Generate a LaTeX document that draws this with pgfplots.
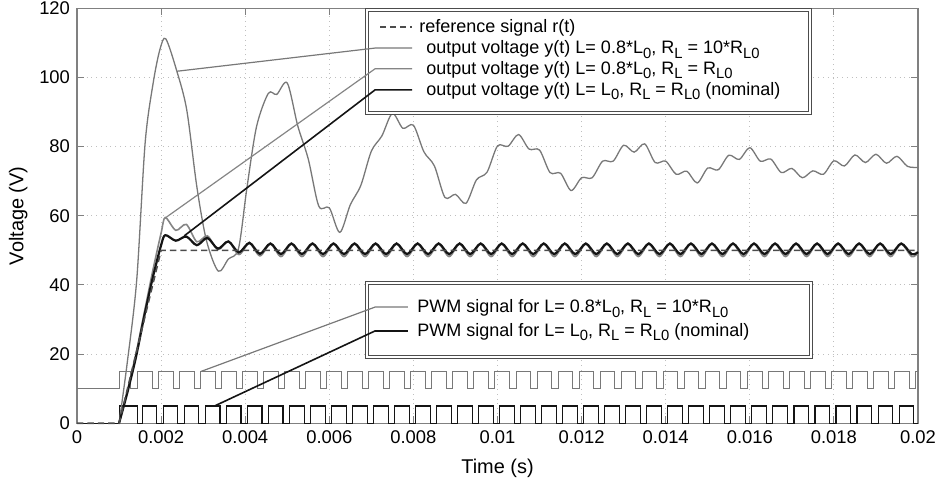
\documentclass[border=0pt]{standalone}
\usepackage{fontspec}
\setmainfont{Liberation Sans}
\usepackage{pgfplots}
\pgfplotsset{compat=1.18}

\definecolor{gOne}{gray}{0.47}
\definecolor{gTwo}{gray}{0.52}
\definecolor{blk}{gray}{0.08}
\definecolor{refc}{gray}{0.3}
\definecolor{axc}{gray}{0.5}

\newcommand{\sub}[1]{\raisebox{-0.5ex}{\fontsize{7.4bp}{8bp}\selectfont #1}}

\begin{document}
\begin{tikzpicture}
\begin{axis}[
    scale only axis,
    width=420.5bp, height=207.5bp,
    xmin=0, xmax=0.02, ymin=0, ymax=120,
    xtick={0,0.002,...,0.02}, ytick={0,20,...,120},
    scaled x ticks=false,
    xticklabel style={/pgf/number format/fixed, /pgf/number format/precision=3},
    /pgf/number format/assume math mode=true,
    ticklabel style={font=\fontsize{9.2bp}{10bp}\selectfont},
    label style={font=\fontsize{10.3bp}{12bp}\selectfont},
    xlabel={Time (s)}, ylabel={Voltage (V)},
    every axis x label/.style={at={(axis description cs:0.5,-0.108)}, anchor=center},
    every axis y label/.style={at={(axis description cs:-0.070,0.5)}, anchor=center, rotate=90},
    axis line style={axc, line width=0.6bp},
    tick style={axc, line width=0.5bp},
    major tick length=3.5bp,
    tick align=inside,
    grid=major,
    grid style={dotted, gray!50, line width=0.5bp},
    clip=false,
]
% PWM signal, L=0.8*L0, RL=10*RL0 (offset by 10)
\addplot[const plot, gOne, line width=0.5bp] coordinates {
(0,10) (0.001,15) (0.00128,10)
(0.00144,15) (0.00179,10) (0.00194,15) (0.00229,10) (0.00244,15) (0.00279,10)
(0.00294,15) (0.00329,10) (0.00344,15) (0.00379,10) (0.00394,15) (0.00429,10)
(0.00444,15) (0.00479,10) (0.00494,15) (0.00529,10) (0.00544,15) (0.00579,10)
(0.00594,15) (0.00629,10) (0.00644,15) (0.00679,10) (0.00694,15) (0.00729,10)
(0.00744,15) (0.00779,10) (0.00794,15) (0.00829,10) (0.00844,15) (0.00879,10)
(0.00894,15) (0.00929,10) (0.00944,15) (0.00979,10) (0.00994,15) (0.01029,10)
(0.01044,15) (0.01079,10) (0.01094,15) (0.01129,10) (0.01144,15) (0.01179,10)
(0.01194,15) (0.01229,10) (0.01244,15) (0.01279,10) (0.01294,15) (0.01329,10)
(0.01344,15) (0.01379,10) (0.01394,15) (0.01429,10) (0.01444,15) (0.01479,10)
(0.01494,15) (0.01529,10) (0.01544,15) (0.01579,10) (0.01594,15) (0.01629,10)
(0.01644,15) (0.01679,10) (0.01694,15) (0.01729,10) (0.01744,15) (0.01779,10)
(0.01794,15) (0.01829,10) (0.01844,15) (0.01879,10) (0.01894,15) (0.01929,10)
(0.01944,15) (0.01979,10) (0.01994,15) (0.02,15)};
% PWM signal, nominal
\addplot[const plot, blk, line width=0.55bp] coordinates {
(0,0) (0.001,5) (0.00144,0)
(0.00155,5) (0.0019,0) (0.00205,5) (0.0024,0) (0.00255,5) (0.0029,0)
(0.00305,5) (0.0034,0) (0.00355,5) (0.0039,0) (0.00405,5) (0.0044,0)
(0.00455,5) (0.0049,0) (0.00505,5) (0.0054,0) (0.00555,5) (0.0059,0)
(0.00605,5) (0.0064,0) (0.00655,5) (0.0069,0) (0.00705,5) (0.0074,0)
(0.00755,5) (0.0079,0) (0.00805,5) (0.0084,0) (0.00855,5) (0.0089,0)
(0.00905,5) (0.0094,0) (0.00955,5) (0.0099,0) (0.01005,5) (0.0104,0)
(0.01055,5) (0.0109,0) (0.01105,5) (0.0114,0) (0.01155,5) (0.0119,0)
(0.01205,5) (0.0124,0) (0.01255,5) (0.0129,0) (0.01305,5) (0.0134,0)
(0.01355,5) (0.0139,0) (0.01405,5) (0.0144,0) (0.01455,5) (0.0149,0)
(0.01505,5) (0.0154,0) (0.01555,5) (0.0159,0) (0.01605,5) (0.0164,0)
(0.01655,5) (0.0169,0) (0.01705,5) (0.0174,0) (0.01755,5) (0.0179,0)
(0.01805,5) (0.0184,0) (0.01855,5) (0.0189,0) (0.01905,5) (0.0194,0)
(0.01955,5) (0.0199,0) (0.02,0)};
% output voltage, L=0.8*L0, RL=10*RL0
\addplot[smooth, gOne, line width=0.65bp] coordinates {
(0.001,0) (0.0012,18) (0.00142,41.4) (0.00162,81) (0.00181,98.3) (0.00197,108)
(0.00211,111.2) (0.00237,102) (0.00261,90.6) (0.00285,68.4) (0.00308,52.8)
(0.00336,44) (0.0036,47.5) (0.00384,50.5) (0.00404,68) (0.00427,85.8) (0.00455,95.4)
(0.00475,95.1) (0.005,98.4) (0.00525,86) (0.0055,76.4) (0.00575,62.8) (0.006,62.3)
(0.00625,55.2) (0.0065,63.2) (0.00675,68.8) (0.007,78.7) (0.00725,83.1) (0.0075,89.6)
(0.00775,85.3) (0.008,86.2) (0.00825,78.5) (0.0085,74.4) (0.00875,65.3) (0.009,66.2)
(0.00925,63.6) (0.0095,70.4) (0.00975,72.6) (0.01,80.2) (0.01025,80.1) (0.0105,83.5)
(0.01075,79.3) (0.011,79.0) (0.01125,72.5) (0.0115,72.3) (0.01175,67.3) (0.012,71.0)
(0.01225,71.0) (0.0125,75.8) (0.01275,75.8) (0.013,80.4) (0.01325,78.4) (0.0135,80.8)
(0.01375,75.4) (0.014,75.8) (0.01425,72.0) (0.0145,72.9) (0.01475,69.5) (0.015,73.8)
(0.01525,73.3) (0.0155,77.5) (0.01575,76.3) (0.016,79.7) (0.01625,75.8) (0.0165,76.4)
(0.01675,72.5) (0.017,73.7) (0.01725,71.0) (0.0175,73.0) (0.01775,72.0) (0.018,75.9)
(0.01825,74.4) (0.0185,77.6) (0.01875,75.4) (0.019,77.8) (0.01925,75.2) (0.0195,77.2)
(0.01975,74.3) (0.02,74.0)};
% output voltage, L=0.8*L0, RL=RL0
\addplot[smooth, gTwo, line width=0.8bp] coordinates {
(0.001,0) (0.0012,9.5) (0.0014,20) (0.0016,32) (0.0018,44) (0.002,55)
(0.0021,59.5) (0.00235,55.8) (0.0026,57.5) (0.00285,52.5) (0.0031,54.2) (0.00335,50.2)
(0.0036,52.6) (0.00385,48.8) (0.0041,52.0) (0.00435,48.4)
(0.0046,51.8) (0.00485,48.2) (0.0051,51.8) (0.00535,48.2) (0.0056,51.8) (0.00585,48.2)
(0.0061,51.8) (0.00635,48.2) (0.0066,51.8) (0.00685,48.2) (0.0071,51.8) (0.00735,48.2)
(0.0076,51.8) (0.00785,48.2) (0.0081,51.8) (0.00835,48.2) (0.0086,51.8) (0.00885,48.2)
(0.0091,51.8) (0.00935,48.2) (0.0096,51.8) (0.00985,48.2) (0.0101,51.8) (0.01035,48.2)
(0.0106,51.8) (0.01085,48.2) (0.0111,51.8) (0.01135,48.2) (0.0116,51.8) (0.01185,48.2)
(0.0121,51.8) (0.01235,48.2) (0.0126,51.8) (0.01285,48.2) (0.0131,51.8) (0.01335,48.2)
(0.0136,51.8) (0.01385,48.2) (0.0141,51.8) (0.01435,48.2) (0.0146,51.8) (0.01485,48.2)
(0.0151,51.8) (0.01535,48.2) (0.0156,51.8) (0.01585,48.2) (0.0161,51.8) (0.01635,48.2)
(0.0166,51.8) (0.01685,48.2) (0.0171,51.8) (0.01735,48.2) (0.0176,51.8) (0.01785,48.2)
(0.0181,51.8) (0.01835,48.2) (0.0186,51.8) (0.01885,48.2) (0.0191,51.8) (0.01935,48.2)
(0.0196,51.8) (0.01985,48.2) (0.02,49.2)};
% output voltage, nominal
\addplot[smooth, blk, line width=1.1bp] coordinates {
(0.001,0) (0.0012,9) (0.0014,19) (0.0016,31) (0.0018,42) (0.002,51.5)
(0.0021,54.4) (0.00235,52.8) (0.0026,54.0) (0.00285,51.5) (0.0031,53.6) (0.00335,50.5)
(0.0036,52.6) (0.00385,49.4) (0.0041,52.2) (0.00435,49.0)
(0.0046,52.0) (0.00485,48.9) (0.0051,52.0) (0.00535,48.9) (0.0056,52.0) (0.00585,48.9)
(0.0061,52.0) (0.00635,48.9) (0.0066,52.0) (0.00685,48.9) (0.0071,52.0) (0.00735,48.9)
(0.0076,52.0) (0.00785,48.9) (0.0081,52.0) (0.00835,48.9) (0.0086,52.0) (0.00885,48.9)
(0.0091,52.0) (0.00935,48.9) (0.0096,52.0) (0.00985,48.9) (0.0101,52.0) (0.01035,48.9)
(0.0106,52.0) (0.01085,48.9) (0.0111,52.0) (0.01135,48.9) (0.0116,52.0) (0.01185,48.9)
(0.0121,52.0) (0.01235,48.9) (0.0126,52.0) (0.01285,48.9) (0.0131,52.0) (0.01335,48.9)
(0.0136,52.0) (0.01385,48.9) (0.0141,52.0) (0.01435,48.9) (0.0146,52.0) (0.01485,48.9)
(0.0151,52.0) (0.01535,48.9) (0.0156,52.0) (0.01585,48.9) (0.0161,52.0) (0.01635,48.9)
(0.0166,52.0) (0.01685,48.9) (0.0171,52.0) (0.01735,48.9) (0.0176,52.0) (0.01785,48.9)
(0.0181,52.0) (0.01835,48.9) (0.0186,52.0) (0.01885,48.9) (0.0191,52.0) (0.01935,48.9)
(0.0196,52.0) (0.01985,48.9) (0.02,49.5)};
% reference signal
\addplot[refc, line width=0.8bp, dash pattern=on 3.2bp off 2bp] coordinates {
(0,0) (0.001,0) (0.002,50) (0.02,50)};

% upper annotation box
\draw[draw=gray!60!black, line width=0.7bp, double=white, double distance=0.9bp, fill=white]
  (axis cs:0.006897,119.5) rectangle (axis cs:0.017432,89.7);
\draw[refc, line width=0.8bp, dash pattern=on 3bp off 2bp] (axis cs:0.007206,114.6) -- (axis cs:0.007967,114.6);
\draw[gOne, line width=0.6bp] (axis cs:0.00238,101.8) -- (axis cs:0.007087,108.5) -- (axis cs:0.007967,108.5);
\draw[gTwo, line width=0.6bp] (axis cs:0.00209,59.3) -- (axis cs:0.007087,102.5) -- (axis cs:0.007967,102.5);
\draw[blk, line width=0.8bp] (axis cs:0.00255,54.2) -- (axis cs:0.007087,96.4) -- (axis cs:0.007967,96.4);
\begin{scope}[every node/.style={anchor=base west, inner sep=0pt, font=\fontsize{9bp}{10bp}\selectfont}]
\node at (axis cs:0.008133,113.1) {reference signal r(t)};
\node at (axis cs:0.0083,107.0) {output voltage y(t) L= 0.8*L\sub{0}, R\sub{L} = 10*R\sub{L0}};
\node at (axis cs:0.0083,101.0) {output voltage y(t) L= 0.8*L\sub{0}, R\sub{L} = R\sub{L0}};
\node at (axis cs:0.0083,94.9) {output voltage y(t) L= L\sub{0}, R\sub{L} = R\sub{L0} (nominal)};
\end{scope}

% lower annotation box
\draw[draw=gray!60!black, line width=0.7bp, double=white, double distance=0.9bp, fill=white]
  (axis cs:0.006897,40.6) rectangle (axis cs:0.017455,19.2);
\draw[gOne, line width=0.6bp] (axis cs:0.00295,15) -- (axis cs:0.007087,33.6) -- (axis cs:0.007871,33.6);
\draw[blk, line width=0.8bp] (axis cs:0.00327,5) -- (axis cs:0.007087,26.7) -- (axis cs:0.007871,26.7);
\begin{scope}[every node/.style={anchor=base west, inner sep=0pt, font=\fontsize{9bp}{10bp}\selectfont}]
\node at (axis cs:0.008086,32.1) {PWM signal for L= 0.8*L\sub{0}, R\sub{L} = 10*R\sub{L0}};
\node at (axis cs:0.008086,25.2) {PWM signal for L= L\sub{0}, R\sub{L} = R\sub{L0} (nominal)};
\end{scope}
\end{axis}
\pgfresetboundingbox
\path[use as bounding box] ([shift={(-38.5bp,-29.35bp)}]current axis.south west)
  rectangle ([shift={(431.5bp,211.65bp)}]current axis.south west);
\end{tikzpicture}
\end{document}
